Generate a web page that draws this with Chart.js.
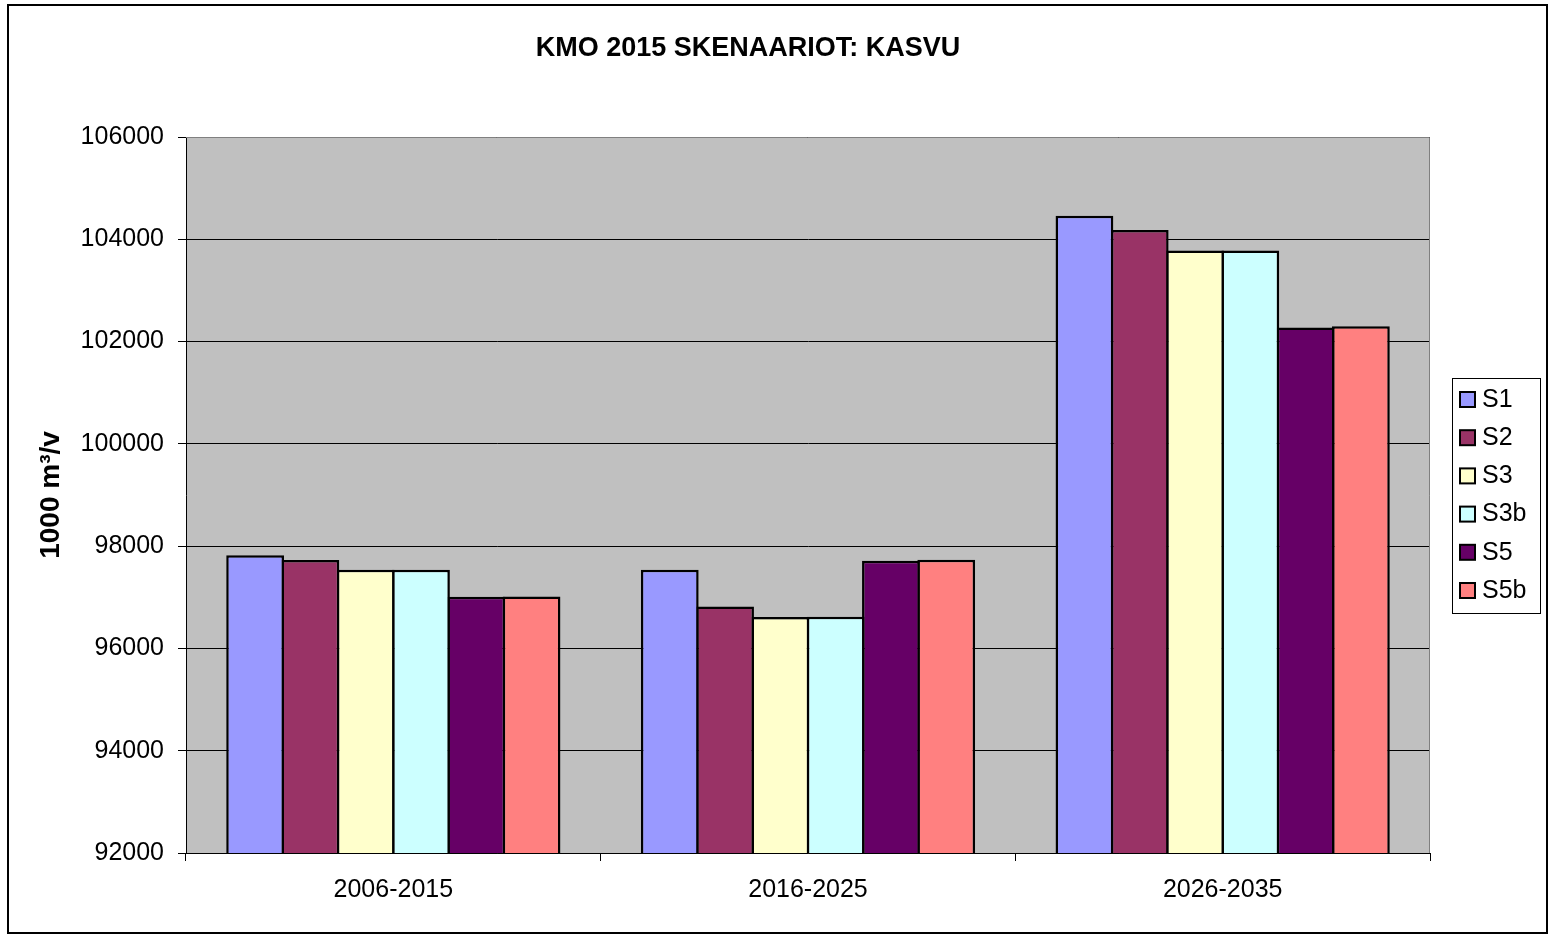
<!DOCTYPE html>
<html>
<head>
<meta charset="utf-8">
<title>KMO 2015 SKENAARIOT: KASVU</title>
<script src="https://cdn.jsdelivr.net/npm/chart.js@4"></script>
<style>
    body { margin: 0; background: #fff; }
    #wrap { width: 1551px; height: 938px; position: relative; }
</style>
</head>
<body>
<div id="wrap"><canvas id="myChart"></canvas></div>
<script>
// Chart data
const chartTitle = "KMO 2015 SKENAARIOT: KASVU";
const yAxisTitle = "1000 m³/v";
const categories = ["2006-2015", "2016-2025", "2026-2035"];
const seriesNames = ["S1", "S2", "S3", "S3b", "S5", "S5b"];
const s1 = [97820, 97540, 104460];
const s2 = [97730, 96820, 104180];
const s3 = [97540, 96615, 103780];
const s3b = [97540, 96620, 103780];
const s5 = [97010, 97715, 102275];
const s5b = [97015, 97735, 102300];
const yTickMin = 92000;
const yTickMax = 106000;
const yTickStep = 2000;

const seriesValues = [s1, s2, s3, s3b, s5, s5b];
const seriesColors = ['#9999FF', '#993366', '#FFFFCC', '#CCFFFF', '#660066', '#FF8080'];

const FONT = "'Liberation Sans', Arial, sans-serif";

// Draws the outer frame, plot background, title and legend box
const excelLook = {
    id: 'excelLook',
    beforeDraw(chart) {
        const c = chart.ctx;
        const a = chart.chartArea;
        c.save();
        c.fillStyle = '#fff';
        c.fillRect(0, 0, chart.width, chart.height);
        c.fillStyle = '#C0C0C0';
        c.fillRect(a.left, a.top, a.right - a.left, a.bottom - a.top);
        c.restore();
    },
    afterDraw(chart) {
        const c = chart.ctx;
        const a = chart.chartArea;
        c.save();
        // plot border (top and right, grey)
        c.strokeStyle = '#808080';
        c.lineWidth = 1;
        c.beginPath();
        c.moveTo(a.left, a.top + 0.5);
        c.lineTo(a.right - 0.5, a.top + 0.5);
        c.lineTo(a.right - 0.5, a.bottom);
        c.stroke();

        // outer frame
        c.strokeStyle = '#000';
        c.lineWidth = 2;
        c.strokeRect(8, 5, 1539, 928);

        // title
        c.fillStyle = '#000';
        c.font = "bold 27px " + FONT;
        c.textAlign = 'center';
        c.textBaseline = 'middle';
        c.fillText(chartTitle, 748, 49);

        // legend
        c.lineWidth = 1;
        c.strokeRect(1452.5, 378.5, 88, 235);
        c.font = "25px " + FONT;
        c.textAlign = 'left';
        chart.data.datasets.forEach(function(ds, i) {
            const y = 399 + i * 38.2;
            c.fillStyle = ds.backgroundColor;
            c.fillRect(1460, y - 7, 15, 15);
            c.lineWidth = 2;
            c.strokeStyle = '#000';
            c.strokeRect(1460, y - 7, 15, 15);
            c.fillStyle = '#000';
            c.fillText(ds.label, 1482, y + 1);
        });
        c.restore();
    }
};

const ctx = document.getElementById('myChart').getContext('2d');
const myChart = new Chart(ctx, {
    type: 'bar',
    data: {
        labels: categories,
        datasets: seriesNames.map(function(name, i) {
            return {
                label: name,
                data: seriesValues[i],
                backgroundColor: seriesColors[i],
                borderColor: '#000',
                borderWidth: 2.5,
                borderSkipped: 'start',
                categoryPercentage: 0.8,
                barPercentage: 1.045
            };
        })
    },
    options: {
        responsive: true,
        maintainAspectRatio: false,
        animation: false,
        layout: {
            padding: { top: 137, right: 121, bottom: 0, left: 0 }
        },
        plugins: {
            legend: { display: false },
            title: { display: false },
            tooltip: { enabled: false }
        },
        scales: {
            x: {
                afterFit: function(scale) { scale.height = 85; },
                grid: {
                    offset: true,
                    drawOnChartArea: false,
                    drawTicks: true,
                    tickLength: 8,
                    color: '#000'
                },
                border: { color: '#000', width: 1 },
                ticks: {
                    color: '#000',
                    padding: 14,
                    font: { family: FONT, size: 25 }
                }
            },
            y: {
                min: yTickMin,
                max: yTickMax,
                afterFit: function(scale) { scale.width = 186; },
                grid: {
                    color: '#000',
                    tickLength: 8
                },
                border: { color: '#000', width: 1 },
                ticks: {
                    stepSize: yTickStep,
                    color: '#000',
                    padding: 14,
                    font: { family: FONT, size: 25 },
                    callback: function(value) { return String(value); }
                },
                title: {
                    display: true,
                    text: yAxisTitle,
                    color: '#000',
                    font: { family: FONT, size: 28, weight: 'bold' },
                    padding: { top: 34, bottom: 0 }
                }
            }
        }
    },
    plugins: [excelLook]
});
</script>
</body>
</html>
